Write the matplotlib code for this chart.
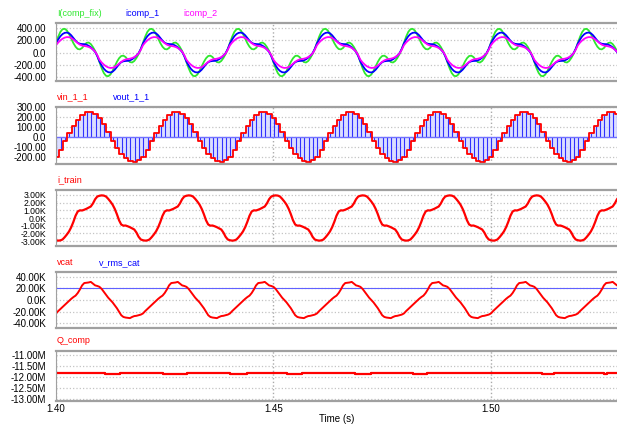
#PSIM-style scope view: 5 stacked panels, time 1.40 .. 1.53 s
import numpy as np
import matplotlib
matplotlib.use('Agg')
import matplotlib.pyplot as plt

plt.rcParams['font.family'] = ['Liberation Sans', 'DejaVu Sans']

#-------- data ----------------------------------------------------------------
# the waveforms repeat every 20 ms (50 Hz): one cycle read at 0.5 ms steps from t=1.40 s
T0, T1, DT = 1.40, 1.529, 0.0005

icomp_fix = [160, 260, 340, 385, 392, 365, 305, 230, 155, 95, 58, 52, 75, 120, 158, 165, 140, 90, 25, -55,
             -160, -260, -340, -385, -392, -365, -305, -230, -155, -95, -58, -52, -75, -120, -158, -165, -140, -90, -25, 55]
icomp_1 = [150, 215, 268, 305, 325, 330, 318, 285, 240, 195, 160, 145, 140, 138, 130, 112, 85, 50, 10, -60,
           -150, -215, -268, -305, -325, -330, -318, -285, -240, -195, -160, -145, -140, -138, -130, -112, -85, -50, -10, 60]
icomp_2 = [120, 165, 200, 228, 246, 255, 253, 240, 215, 185, 155, 130, 115, 108, 102, 92, 75, 50, 15, -45,
           -120, -165, -200, -228, -246, -255, -253, -240, -215, -185, -155, -130, -115, -108, -102, -92, -75, -50, -15, 45]
# i_train in kA
i_train = [-2.90, -2.95, -2.92, -2.80, -2.50, -2.15, -1.75, -1.20, -0.50, 0.30, 0.85, 1.00, 0.98, 1.08, 1.20, 1.35, 1.50, 1.90, 2.45, 2.80,
           2.90, 2.95, 2.92, 2.80, 2.50, 2.15, 1.75, 1.20, 0.50, -0.30, -0.85, -1.00, -0.98, -1.08, -1.20, -1.35, -1.50, -1.90, -2.45, -2.80]
# vcat in kV
vcat = [-23, -19, -15.5, -12, -8.5, -5, -1.5, 2, 5, 7.5, 12, 18, 25, 29, 29.5, 30, 31, 28, 25, 24,
        22.5, 19, 14, 9, 4, 0, -4, -9, -14, -20, -26, -29, -30, -30.5, -31, -29, -27.5, -27, -26, -25]
v_rms_cat = 21.2          # kV

# vin_1_1 staircase: one value per 1 ms step, first step edge at 1.3996 s
VIN_T0, VIN_DT = 1.3996, 0.001
vin_1_1 = [-200, -130, -45, 40, 110, 170, 215, 245, 250, 230, 190, 130, 50, -40, -110, -170, -215, -245, -250, -230]

# Q_comp (MVA): level changes
q_t = [1.400, 1.4113, 1.4147, 1.4246, 1.4301, 1.4400, 1.4439, 1.4531, 1.4566,
       1.4688, 1.4725, 1.4821, 1.4854, 1.5118, 1.5144, 1.5259, 1.5268, 1.529]
q_v = [-11.82, -11.87, -11.82, -11.87, -11.82, -11.87, -11.82, -11.87, -11.82,
       -11.87, -11.82, -11.87, -11.82, -11.87, -11.82, -11.87, -11.82, -11.82]

# axis ticks and labels
x_ticks = [1.40, 1.45, 1.50];  x_labels = ['1.40', '1.45', '1.50']
y1_ticks = [400, 200, 0, -200, -400];  y1_labels = ['400.00', '200.00', '0.0', '-200.00', '-400.00']
y2_ticks = [300, 200, 100, 0, -100, -200];  y2_labels = ['300.00', '200.00', '100.00', '0.0', '-100.00', '-200.00']
y3_ticks = [3, 2, 1, 0, -1, -2, -3];  y3_labels = ['3.00K', '2.00K', '1.00K', '0.0K', '-1.00K', '-2.00K', '-3.00K']
y4_ticks = [40, 20, 0, -20, -40];  y4_labels = ['40.00K', '20.00K', '0.0K', '-20.00K', '-40.00K']
y5_ticks = [-11, -11.5, -12, -12.5, -13];  y5_labels = ['-11.00M', '-11.50M', '-12.00M', '-12.50M', '-13.00M']

#-------- build the time series ------------------------------------------------
n = int(round((T1 - T0) / DT)) + 2
t = T0 + DT * np.arange(n)
def rep(cycle):                       # repeat the read cycle over the window
    return np.resize(np.array(cycle, dtype=float), n)

m = int(round((T1 - VIN_T0) / VIN_DT)) + 2
tv = VIN_T0 + VIN_DT * np.arange(m)
vin = np.resize(np.array(vin_1_1, dtype=float), m)

#-------- plotting --------------------------------------------------------------
GREEN, BLUE, MAG, RED = '#2ee82e', '#0000ff', '#ff00ff', '#ff0000'
fig = plt.figure(figsize=(6.17, 4.26), dpi=100)
W, H = 617.0, 426.0
def panel(top, bot):
    return fig.add_axes([56 / W, 1 - bot / H, 1 - 56 / W, (bot - top) / H])

def style(ax, yt, yl, ylim, last=False, ysize=7):
    ax.set_xlim(T0, T1);  ax.set_ylim(*ylim)
    ax.set_yticks(yt, yl)
    ax.set_xticks(x_ticks, x_labels if last else [''] * len(x_ticks))
    ax.tick_params(length=0, labelsize=7, colors='black')
    ax.tick_params(axis='y', pad=7, labelsize=ysize);  ax.tick_params(axis='x', pad=2)
    ax.grid(axis='y', linestyle=':', color='#c4c4c4', linewidth=0.9)
    ax.grid(axis='x', linestyle=':', color='#aaaaaa', linewidth=1.0)
    ax.set_axisbelow(True)
    for s in ['top', 'bottom']:
        ax.spines[s].set_color('#a0a0a0');  ax.spines[s].set_linewidth(1.6)
    ax.spines['left'].set_color('#a0a0a0');  ax.spines['left'].set_linewidth(0.8)
    ax.spines['right'].set_visible(False)

def names(ax, items):
    for dx, txt, c in items:
        ax.annotate(txt, xy=(0, 1), xycoords='axes fraction', xytext=(dx, 10),
                    textcoords='offset pixels', color=c, fontsize=6.5, ha='left', va='center')

ax1 = panel(23.3, 81)
ax1.plot(t, rep(icomp_fix), color=GREEN, lw=1.3)
ax1.plot(t, rep(icomp_1), color=BLUE, lw=1.3)
ax1.plot(t, rep(icomp_2), color=MAG, lw=1.3)
style(ax1, y1_ticks, y1_labels, (-471, 483))
names(ax1, [(1, 'I(comp_fix)', GREEN), (69, 'icomp_1', BLUE), (127, 'icomp_2', MAG)])

ax2 = panel(106.7, 164)
ax2.fill_between(tv, 0, vin, step='post', color='#cdd0ff', alpha=0.7, lw=0)
ax2.vlines(tv + VIN_DT / 2, 0, vin, color='#3030ff', lw=0.8)
ax2.axhline(0, color='#7070ff', lw=1.0)
ax2.step(tv, vin, where='post', color=RED, lw=1.3)
style(ax2, y2_ticks, y2_labels, (-273, 302))
names(ax2, [(1, 'vin_1_1', RED), (57, 'vout_1_1', BLUE)])

ax3 = panel(190, 246)
ax3.plot(t, rep(i_train), color=RED, lw=1.6)
style(ax3, y3_ticks, y3_labels, (-3.65, 3.65), ysize=6.2)
names(ax3, [(1, 'i_train', RED)])

ax4 = panel(272.3, 328.3)
ax4.axhline(v_rms_cat, color='#6060ff', lw=0.8)
ax4.plot(t, rep(vcat), color=RED, lw=1.4)
style(ax4, y4_ticks, y4_labels, (-48.4, 47.4))
names(ax4, [(1, 'vcat', RED), (43, 'v_rms_cat', BLUE)])

ax5 = panel(350.7, 401)
ax5.step(q_t, q_v, where='post', color=RED, lw=1.6)
style(ax5, y5_ticks, y5_labels, (-13.08, -10.79), last=True)
names(ax5, [(1, 'Q_comp', RED)])
ax5.set_xlabel('Time (s)', fontsize=7, labelpad=0)

plt.savefig('out.png', dpi=100)
